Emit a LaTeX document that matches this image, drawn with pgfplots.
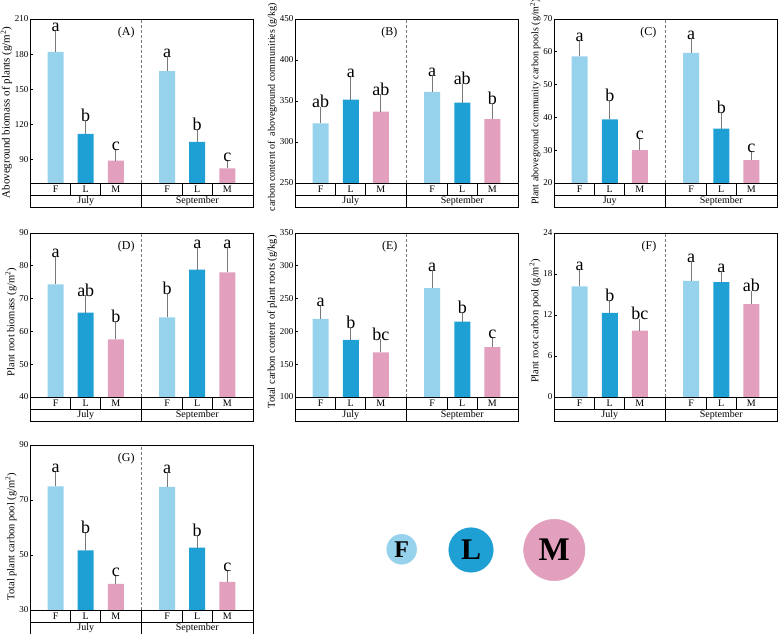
\documentclass[border=0pt]{standalone}
\usepackage{fontspec}
\setmainfont{Liberation Serif}
\usepackage{pgfplots}
\pgfplotsset{compat=1.18}

\definecolor{cF}{RGB}{150,210,236}
\definecolor{cL}{RGB}{30,160,212}
\definecolor{cM}{RGB}{226,160,190}
\definecolor{cErr}{RGB}{120,120,120}

\newcommand{\rows}[1]{%
  \draw[black, line width=0.8pt] ([yshift=-24pt]rel axis cs:0,0) rectangle (rel axis cs:1,0);
  \draw[black, line width=0.8pt] ([yshift=-12pt]rel axis cs:0,0) -- ([yshift=-12pt]rel axis cs:1,0);
  \draw[black, line width=0.8pt] ([yshift=-24pt]rel axis cs:0.5,0) -- (rel axis cs:0.5,0);
  \foreach \xx in {0.1824,0.3176,0.6824,0.8176}
    {\draw[black, line width=0.8pt] ([yshift=-12pt]rel axis cs:\xx,0) -- (rel axis cs:\xx,0);}
  \foreach \xx/\tt in {0.1149/F,0.25/L,0.3851/M,0.6149/F,0.75/L,0.8851/M}
    {\node[font=\fontsize{10}{10}\selectfont, inner sep=0pt] at ([yshift=-6pt]rel axis cs:\xx,0) {\tt};}
  \node[font=\fontsize{10}{10}\selectfont, inner sep=0pt] at ([yshift=-18pt]rel axis cs:0.25,0) {#1};
  \node[font=\fontsize{10}{10}\selectfont, inner sep=0pt] at ([yshift=-18pt]rel axis cs:0.75,0) {September};
}

\tikzset{
  sep/.style={cErr, line width=0.7pt, dash pattern=on 3pt off 2pt},
  plab/.style={anchor=east, font=\fontsize{12}{12}\selectfont},
}

\pgfplotsset{
  panel/.style={
    scale only axis, width=223pt, height=164pt,
    xmin=0, xmax=7.4, xtick=\empty, clip=true,
    axis line style={black, line width=0.8pt},
    tick align=inside, major tick length=3pt,
    ytick pos=left,
    tick style={black, line width=0.8pt},
    yticklabel style={font=\fontsize{9}{9}\selectfont, /pgf/number format/assume math mode=true, inner sep=1.5pt},
    ylabel style={font=\fontsize{10.5}{11}\selectfont, inner sep=1pt},
    after end axis/.code={\rows{#1}},
  },
  ylpos/.style={ylabel style={at={(ticklabel cs:#1)}}},
  bars/.style={ybar, bar width=16pt, draw=none, fill=#1,
     error bars/.cd, y dir=plus, y explicit,
     error bar style={cErr, line width=0.9pt},
     error mark options={cErr, line width=0.9pt, mark size=2.5pt}},
  lets/.style={draw=none, mark=none, nodes near coords, point meta=explicit symbolic,
     every node near coord/.append style={font=\fontsize{18}{18}\selectfont, anchor=south, inner sep=1.5pt, black}},
}

\begin{document}
\begin{tikzpicture}
\useasboundingbox (0,0) rectangle (779pt,634pt);

% (A)
\begin{axis}[panel=July, at={(30pt,451pt)}, anchor=south west, ymin=70, ymax=210,
  ytick={90,120,150,180,210}, ylabel={Aboveground biomass of plants (g/m\textsuperscript{2})},
  ylpos=0.43, ylabel style={font=\fontsize{11}{11}\selectfont}]
  \addplot[bars=cF] coordinates {(0.85,182) +- (0,15.5) (4.55,165.5) +- (0,10)};
  \addplot[bars=cL] coordinates {(1.85,112) +- (0,8.5) (5.55,105) +- (0,8.5)};
  \addplot[bars=cM] coordinates {(2.85,89) +- (0,7.5) (6.55,82.5) +- (0,4)};
  \addplot[lets] coordinates {(0.85,197.5)[a] (1.85,120.5)[b] (2.85,96.5)[c] (4.55,175.5)[a] (5.55,113.5)[b] (6.55,86.5)[c]};
  \draw[sep] (rel axis cs:0.5,0) -- (rel axis cs:0.5,1);
  \node[plab] at (rel axis cs:0.485,0.915) {(A)};
\end{axis}

% (B)
\begin{axis}[panel=July, at={(295pt,451pt)}, anchor=south west, ymin=250, ymax=450,
  ytick={250,300,350,400,450}, ylabel={carbon content of\ \ aboveground communities (g/kg)},
  ylpos=0.463, ylabel style={font=\fontsize{10}{10}\selectfont}]
  \addplot[bars=cF] coordinates {(0.85,322.7) +- (0,17) (4.55,361) +- (0,17)};
  \addplot[bars=cL] coordinates {(1.85,351.8) +- (0,24) (5.55,348) +- (0,20)};
  \addplot[bars=cM] coordinates {(2.85,337) +- (0,18) (6.55,328) +- (0,15)};
  \addplot[lets] coordinates {(0.85,339.7)[ab] (1.85,375.8)[a] (2.85,355)[ab] (4.55,378)[a] (5.55,368)[ab] (6.55,343)[b]};
  \draw[sep] (rel axis cs:0.5,0) -- (rel axis cs:0.5,1);
  \node[plab] at (rel axis cs:0.475,0.915) {(B)};
\end{axis}

% (C)
\begin{axis}[panel=Juy, at={(554pt,451pt)}, anchor=south west, ymin=20, ymax=70,
  ytick={20,30,40,50,60,70}, ylabel={Plant aboveground community carbon pools (g/m\textsuperscript{2})},
  ylpos=0.494, ylabel style={font=\fontsize{10}{10}\selectfont}]
  \addplot[bars=cF] coordinates {(0.85,58.6) +- (0,4) (4.55,59.7) +- (0,3.4)};
  \addplot[bars=cL] coordinates {(1.85,39.4) +- (0,4.8) (5.55,36.6) +- (0,3.9)};
  \addplot[bars=cM] coordinates {(2.85,30) +- (0,2.6) (6.55,27) +- (0,1.8)};
  \addplot[lets] coordinates {(0.85,62.6)[a] (1.85,44.2)[b] (2.85,32.6)[c] (4.55,63.1)[a] (5.55,40.5)[b] (6.55,28.8)[c]};
  \draw[sep] (rel axis cs:0.5,0) -- (rel axis cs:0.5,1);
  \node[plab] at (rel axis cs:0.475,0.915) {(C)};
\end{axis}

% (D)
\begin{axis}[panel=July, at={(30pt,237pt)}, anchor=south west, ymin=40, ymax=90,
  ytick={40,50,60,70,80,90}, ylabel={Plant root biomass (g/m\textsuperscript{2})}, ylpos=0.457]
  \addplot[bars=cF] coordinates {(0.85,74.3) +- (0,7.7) (4.55,64.3) +- (0,6.3)};
  \addplot[bars=cL] coordinates {(1.85,65.7) +- (0,4.5) (5.55,78.8) +- (0,5.8)};
  \addplot[bars=cM] coordinates {(2.85,57.6) +- (0,4.6) (6.55,78) +- (0,6.8)};
  \addplot[lets] coordinates {(0.85,82)[a] (1.85,70.2)[ab] (2.85,62.2)[b] (4.55,70.6)[b] (5.55,84.6)[a] (6.55,84.8)[a]};
  \draw[sep] (rel axis cs:0.5,0) -- (rel axis cs:0.5,1);
  \node[plab] at (rel axis cs:0.485,0.915) {(D)};
\end{axis}

% (E)
\begin{axis}[panel=July, at={(295pt,237pt)}, anchor=south west, ymin=100, ymax=350,
  ytick={100,150,200,250,300,350}, ylabel={Total carbon content of plant roots (g/kg)}, ylpos=0.457]
  \addplot[bars=cF] coordinates {(0.85,219) +- (0,16) (4.55,266) +- (0,23)};
  \addplot[bars=cL] coordinates {(1.85,187) +- (0,15) (5.55,215) +- (0,9)};
  \addplot[bars=cM] coordinates {(2.85,168) +- (0,16) (6.55,176) +- (0,10)};
  \addplot[lets] coordinates {(0.85,235)[a] (1.85,202)[b] (2.85,184)[bc] (4.55,289)[a] (5.55,224)[b] (6.55,186)[c]};
  \draw[sep] (rel axis cs:0.5,0) -- (rel axis cs:0.5,1);
  \node[plab] at (rel axis cs:0.475,0.915) {(E)};
\end{axis}

% (F)
\begin{axis}[panel=July, at={(554pt,237pt)}, anchor=south west, ymin=0, ymax=24,
  ytick={0,6,12,18,24}, ylabel={Plant root carbon pool (g/m\textsuperscript{2})}, ylpos=0.463]
  \addplot[bars=cF] coordinates {(0.85,16.2) +- (0,2.1) (4.55,17.0) +- (0,2.4)};
  \addplot[bars=cL] coordinates {(1.85,12.3) +- (0,1.4) (5.55,16.8) +- (0,1.1)};
  \addplot[bars=cM] coordinates {(2.85,9.7) +- (0,1.3) (6.55,13.6) +- (0,1.5)};
  \addplot[lets] coordinates {(0.85,18.3)[a] (1.85,13.7)[b] (2.85,11.0)[bc] (4.55,19.4)[a] (5.55,17.9)[a] (6.55,15.1)[ab]};
  \draw[sep] (rel axis cs:0.5,0) -- (rel axis cs:0.5,1);
  \node[plab] at (rel axis cs:0.475,0.915) {(F)};
\end{axis}

% (G)
\begin{axis}[panel=July, at={(30pt,24pt)}, anchor=south west, height=165pt, ymin=30, ymax=90,
  ytick={30,50,70,90}, ylabel={Total plant carbon pool (g/m\textsuperscript{2})}, ylpos=0.445]
  \addplot[bars=cF] coordinates {(0.85,75) +- (0,4.5) (4.55,74.8) +- (0,4)};
  \addplot[bars=cL] coordinates {(1.85,51.7) +- (0,5.6) (5.55,52.7) +- (0,3.2)};
  \addplot[bars=cM] coordinates {(2.85,39.5) +- (0,2) (6.55,40.2) +- (0,3.2)};
  \addplot[lets] coordinates {(0.85,79.5)[a] (1.85,57.3)[b] (2.85,41.5)[c] (4.55,78.8)[a] (5.55,55.9)[b] (6.55,43.4)[c]};
  \draw[sep] (rel axis cs:0.5,0) -- (rel axis cs:0.5,1);
  \node[plab] at (rel axis cs:0.485,0.915) {(G)};
\end{axis}

% legend circles
\begin{axis}[at={(0pt,0pt)}, anchor=south west, hide axis, scale only axis,
  width=779pt, height=634pt, xmin=0, xmax=779, ymin=0, ymax=634, clip=false]
  \addplot[color=cF, only marks, mark=*, mark size=15pt, mark options={fill=cF, draw=cF},
    nodes near coords={F}, every node near coord/.append style={anchor=center, black, font=\bfseries\fontsize{24}{24}\selectfont}]
    coordinates {(401.7,84.7)};
  \addplot[color=cL, only marks, mark=*, mark size=22.3pt, mark options={fill=cL, draw=cL},
    nodes near coords={L}, every node near coord/.append style={anchor=center, black, font=\bfseries\fontsize{30}{30}\selectfont}]
    coordinates {(471,84)};
  \addplot[color=cM, only marks, mark=*, mark size=30.7pt, mark options={fill=cM, draw=cM},
    nodes near coords={M}, every node near coord/.append style={anchor=center, black, font=\bfseries\fontsize{33}{33}\selectfont}]
    coordinates {(554.3,84)};
\end{axis}
\end{tikzpicture}
\end{document}
